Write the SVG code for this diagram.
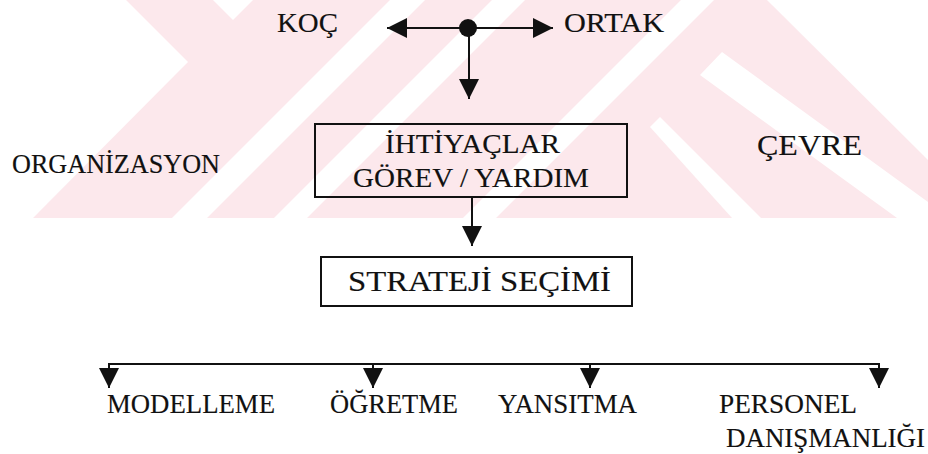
<svg xmlns="http://www.w3.org/2000/svg" width="928" height="454" viewBox="0 0 928 454">
  <style>
    .lbl { font-family: "Liberation Serif", "Times New Roman", serif; font-size: 27px; fill: #111; stroke: #111; stroke-width: 0.15; }
    .box { fill: none; stroke: #111; stroke-width: 2; }
    .wire { fill: none; stroke: #111; stroke-width: 2; }
    .wm { fill: #fce8ec; }
    .gap { fill: #ffffff; }
  </style>
  <defs>
    <marker id="head" viewBox="0 0 20 20" refX="20" refY="10" markerWidth="20" markerHeight="20" markerUnits="userSpaceOnUse" orient="auto">
      <path d="M0,0 L20,10 L0,20 Z" fill="#111"/>
    </marker>
  </defs>

  <rect width="928" height="454" fill="#ffffff"/>

  <!-- faint striped background band -->
  <g id="backdrop">
    <rect class="wm" x="0" y="0" width="928" height="218"/>
    <polygon class="gap" points="0,0 126,0 188,62 33,218 0,218"/>
    <polygon class="gap" points="213,0 233,20 253,0"/>
    <polygon class="gap" points="390,0 425,0 207,218 172,218"/>
    <polygon class="gap" points="492,0 525,0 307,218 274,218"/>
    <polygon class="gap" points="681,0 714,0 496,218 463,218"/>
    <polygon class="gap" points="767,0 928,0 928,160"/>
    <polygon class="gap" points="700,75 722,52 928,202 928,218 897,218"/>
    <polygon class="gap" points="650,127 660,117 761,218 732,218"/>
  </g>

  <!-- connectors -->
  <g id="connectors">
    <line class="wire" x1="468" y1="28" x2="387" y2="28" marker-end="url(#head)"/>
    <line class="wire" x1="468" y1="28" x2="553" y2="28" marker-end="url(#head)"/>
    <line class="wire" x1="469" y1="28" x2="469" y2="99" marker-end="url(#head)"/>
    <line class="wire" x1="472" y1="197" x2="472" y2="246" marker-end="url(#head)"/>
    <line class="wire" x1="108" y1="364" x2="880" y2="364"/>
    <line class="wire" x1="109" y1="363" x2="109" y2="388" marker-end="url(#head)"/>
    <line class="wire" x1="373" y1="363" x2="373" y2="388" marker-end="url(#head)"/>
    <line class="wire" x1="590" y1="363" x2="590" y2="388" marker-end="url(#head)"/>
    <line class="wire" x1="879" y1="363" x2="879" y2="388" marker-end="url(#head)"/>
    <circle cx="468" cy="28" r="9" fill="#111"/>
  </g>

  <g id="koc">
    <text class="lbl" x="277" y="32" style="font-size:28px" textLength="61" lengthAdjust="spacingAndGlyphs">KOÇ</text>
  </g>
  <g id="ortak">
    <text class="lbl" x="564" y="32" style="font-size:28px" textLength="100" lengthAdjust="spacingAndGlyphs">ORTAK</text>
  </g>
  <g id="organizasyon">
    <text class="lbl" x="12" y="173" textLength="208" lengthAdjust="spacingAndGlyphs">ORGANİZASYON</text>
  </g>
  <g id="cevre">
    <text class="lbl" x="757" y="155" style="font-size:30px" textLength="105" lengthAdjust="spacingAndGlyphs">ÇEVRE</text>
  </g>
  <g id="ihtiyaclar">
    <rect class="box" x="315" y="124" width="312" height="73"/>
    <text class="lbl" x="385" y="153" style="font-size:27.5px" textLength="175" lengthAdjust="spacingAndGlyphs">İHTİYAÇLAR</text>
    <text class="lbl" x="353" y="187" textLength="236" lengthAdjust="spacingAndGlyphs">GÖREV / YARDIM</text>
  </g>
  <g id="strateji">
    <rect class="box" x="321" y="257" width="311" height="49"/>
    <text class="lbl" x="348" y="291" style="font-size:30px" textLength="263" lengthAdjust="spacingAndGlyphs">STRATEJİ SEÇİMİ</text>
  </g>
  <g id="modelleme">
    <text class="lbl" x="107" y="413" textLength="168" lengthAdjust="spacingAndGlyphs">MODELLEME</text>
  </g>
  <g id="ogretme">
    <text class="lbl" x="330" y="413" textLength="128" lengthAdjust="spacingAndGlyphs">ÖĞRETME</text>
  </g>
  <g id="yansitma">
    <text class="lbl" x="498" y="413" textLength="139" lengthAdjust="spacingAndGlyphs">YANSITMA</text>
  </g>
  <g id="personel">
    <text class="lbl" x="719" y="413" textLength="138" lengthAdjust="spacingAndGlyphs">PERSONEL</text>
    <text class="lbl" x="726" y="447" textLength="199" lengthAdjust="spacingAndGlyphs">DANIŞMANLIĞI</text>
  </g>
</svg>
